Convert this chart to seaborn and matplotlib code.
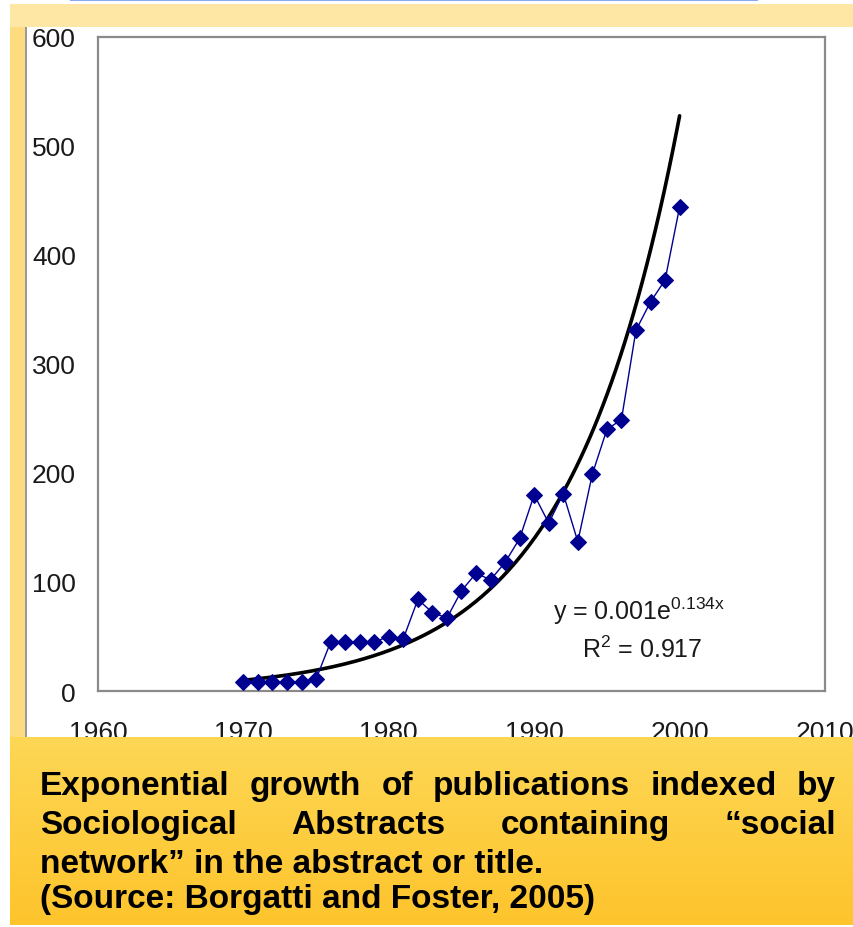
import numpy as np
import pandas as pd
import matplotlib.pyplot as plt
import matplotlib.patches as mpatches
import seaborn as sns

# Publications per year
years = list(range(1970, 2001))
counts = [8, 8, 8, 8, 8, 11, 45, 45, 45, 45, 50, 48, 84, 72, 67, 92,
          108, 102, 118, 140, 180, 154, 181, 137, 199, 240, 249, 331, 357, 377, 444]

x_ticks = [1960, 1970, 1980, 1990, 2000, 2010]
y_ticks = [0, 100, 200, 300, 400, 500, 600]

caption_lines = [
    "Exponential growth of publications indexed by",
    "Sociological Abstracts containing \u201csocial",
    "network\u201d in the abstract or title.",
    "(Source: Borgatti and Foster, 2005)",
]

df = pd.DataFrame({"year": years, "count": counts})

# exponential trend fitted on the data (like Excel does)
b, ln_a = np.polyfit(df["year"] - 2000, np.log(df["count"]), 1)
trend = pd.DataFrame({"year": np.linspace(1970, 2000, 200)})
trend["fit"] = np.exp(ln_a) * np.exp(b * (trend["year"] - 2000))

sns.set_style("white")
plt.rcParams["font.family"] = ["Liberation Sans", "DejaVu Sans"]
plt.rcParams["mathtext.fontset"] = "custom"
plt.rcParams["mathtext.rm"] = "Liberation Sans"

W, H = 854, 928
fig = plt.figure(figsize=(W / 100, H / 100), dpi=100)
fig.patch.set_facecolor("white")


def px_rect(x0, y0, x1, y1, color, z=0):
    r = mpatches.Rectangle((x0 / W, 1 - y1 / H), (x1 - x0) / W, (y1 - y0) / H,
                           transform=fig.transFigure, facecolor=color,
                           edgecolor="none", zorder=z)
    fig.patches.append(r)
    return r


# background frame pieces
px_rect(70, 0, 758, 2, "#86aaf2", z=-5)
px_rect(10, 5, 854, 28, "#fee7a4", z=-5)
px_rect(10, 28, 25, 740, "#fddb7e", z=-5)
px_rect(25, 28, 27, 740, "#9a9a9a", z=-5)

ax = fig.add_axes([98 / W, 1 - 692 / H, (825 - 98) / W, (692 - 38) / H])
ax.set_facecolor("white")

sns.lineplot(data=trend, x="year", y="fit", color="black", linewidth=2.6,
             ax=ax, zorder=2)
sns.lineplot(data=df, x="year", y="count", color="#000090", linewidth=1.0,
             marker="D", markersize=8, markeredgecolor="#000090", ax=ax, zorder=3)

ax.set_xlim(1960, 2010)
ax.set_ylim(0, 600)
ax.set_xticks(x_ticks)
ax.set_yticks(y_ticks)
ax.set_xlabel("")
ax.set_ylabel("")
ax.tick_params(axis="both", direction="out", length=6, width=1.2,
               color="#777777", labelsize=19, labelcolor="#1a1a1a")
ax.tick_params(axis="y", pad=10)
ax.tick_params(axis="x", pad=15)
for s in ax.spines.values():
    s.set_color("#8a8a8a")
    s.set_linewidth(1.6)

ax.text(1991.3, 66, r"y = 0.001e$^{\mathrm{0.134x}}$", fontsize=18, color="#1a1a1a")
ax.text(1993.3, 31, r"R$^{\mathrm{2}}$ = 0.917", fontsize=18, color="#1a1a1a")

# caption panel with vertical gradient
cax = fig.add_axes([10 / W, 1 - 926 / H, (854 - 10) / W, (926 - 738) / H], zorder=5)
grad = np.linspace(0, 1, 256).reshape(-1, 1)
top = np.array([254, 215, 85]) / 255
bot = np.array([253, 196, 44]) / 255
img = top[None, None, :] * (1 - grad[:, :, None]) + bot[None, None, :] * grad[:, :, None]
cax.imshow(img, aspect="auto", extent=[0, 1, 0, 1])
cax.set_axis_off()

renderer = fig.canvas.get_renderer()
baselines = [795, 834, 873, 908]
left_px, right_px = 40, 836
for i, (line, yb) in enumerate(zip(caption_lines, baselines)):
    kw = dict(fontsize=24, fontweight="bold", color="black", va="baseline",
              zorder=6)
    if i < 2:
        words = line.split(" ")
        texts = [fig.text(0, 1 - yb / H, w, **kw) for w in words]
        widths = [t.get_window_extent(renderer).width for t in texts]
        gap = (right_px - left_px - sum(widths)) / (len(words) - 1)
        x = left_px
        for t, w in zip(texts, widths):
            t.set_x(x / W)
            x += w + gap
    else:
        fig.text(left_px / W, 1 - yb / H, line, **kw)

fig.savefig("out.png", dpi=100)
